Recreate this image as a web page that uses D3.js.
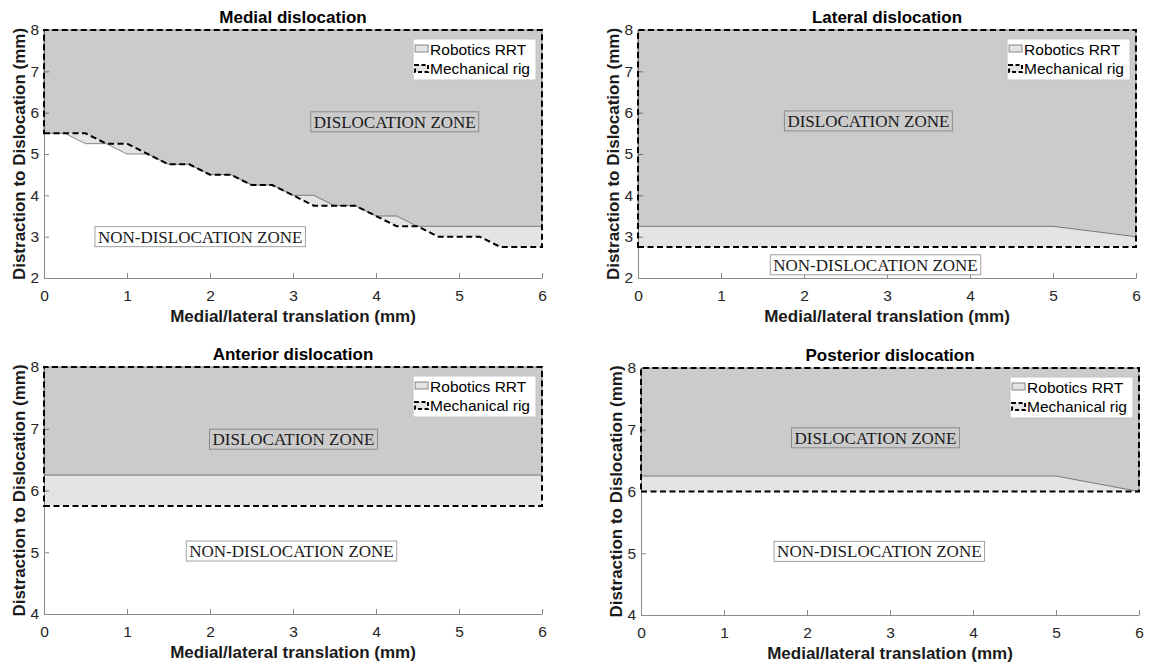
<!DOCTYPE html>
<html>
<head>
<meta charset="utf-8">
<script src="https://cdn.jsdelivr.net/npm/d3@7"></script>
<style>
  body { margin: 0; background: #fff; }
  text { font-family: "Liberation Sans", Arial, sans-serif; }
</style>
</head>
<body>
<svg width="1154" height="665"></svg>
<script>
"use strict";

// boundaries (mm), one x list per test
let medialX   = [0, 0.25, 0.5, 0.75, 1, 1.25, 1.5, 1.75, 2, 2.25, 2.5, 2.75, 3, 3.25, 3.5, 3.75, 4, 4.25, 4.5, 4.75, 5, 5.25, 5.5, 5.75, 6];
let medialRRT = [5.5, 5.5, 5.25, 5.25, 5, 5, 4.75, 4.75, 4.5, 4.5, 4.25, 4.25, 4, 4, 3.75, 3.75, 3.5, 3.5, 3.25, 3.25, 3.25, 3.25, 3.25, 3.25, 3.25];
let medialRig = [5.5, 5.5, 5.5, 5.25, 5.25, 5, 4.75, 4.75, 4.5, 4.5, 4.25, 4.25, 4, 3.75, 3.75, 3.75, 3.5, 3.25, 3.25, 3, 3, 3, 2.75, 2.75, 2.75];

let lateralX   = [0, 5, 6];
let lateralRRT = [3.25, 3.25, 3];
let lateralRig = [2.75, 2.75, 2.75];

let anteriorX   = [0, 6];
let anteriorRRT = [6.25, 6.25];
let anteriorRig = [5.75, 5.75];

let posteriorX   = [0, 5, 6];
let posteriorRRT = [6.25, 6.25, 6];
let posteriorRig = [6, 6, 6];

let titles = ["Medial dislocation", "Lateral dislocation", "Anterior dislocation", "Posterior dislocation"];
let xTicks = [0, 1, 2, 3, 4, 5, 6];
let yTicksTop = [2, 3, 4, 5, 6, 7, 8];
let yTicksBottom = [4, 5, 6, 7, 8];
let legendLabels = ["Robotics RRT", "Mechanical rig"];
// zone label anchors [x, y] in data units
let dislocLabel    = [[3.25, 5.78], [1.8, 5.8], [2.03, 6.83], [1.85, 6.87]];
let nonDislocLabel = [[0.65, 3.0], [1.63, 2.32], [1.75, 5.02], [1.64, 5.03]];

let panels = [
    {xs: medialX, rrt: medialRRT, rig: medialRig, yTicks: yTicksTop, left: 44, right: 542, top: 30, bottom: 278},
    {xs: lateralX, rrt: lateralRRT, rig: lateralRig, yTicks: yTicksTop, left: 638, right: 1136, top: 30, bottom: 278},
    {xs: anteriorX, rrt: anteriorRRT, rig: anteriorRig, yTicks: yTicksBottom, left: 44, right: 542, top: 367, bottom: 614},
    {xs: posteriorX, rrt: posteriorRRT, rig: posteriorRig, yTicks: yTicksBottom, left: 641, right: 1139, top: 368, bottom: 615}
];

let svg = d3.select("svg");
svg.append("rect").attr("width", 1154).attr("height", 665).attr("fill", "#fff");

panels.forEach((p, i) => {
    let x = d3.scaleLinear().domain([0, 6]).range([p.left, p.right]);
    let y = d3.scaleLinear().domain([p.yTicks[0], 8]).range([p.bottom, p.top]);
    let g = svg.append("g");

    // axes (drawn under the patches, like matlab's bottom layer)
    let xAxis = g.append("g")
        .attr("transform", "translate(0," + p.bottom + ")")
        .call(d3.axisBottom(x).tickValues(xTicks).tickFormat(d3.format("d"))
            .tickSizeInner(-5).tickSizeOuter(0).tickPadding(12));
    let yAxis = g.append("g")
        .attr("transform", "translate(" + p.left + ",0)")
        .call(d3.axisLeft(y).tickValues(p.yTicks).tickFormat(d3.format("d"))
            .tickSizeInner(-5).tickSizeOuter(0).tickPadding(5));
    [xAxis, yAxis].forEach(a => {
        a.select(".domain").attr("stroke", "#8a8a8a");
        a.selectAll(".tick line").attr("stroke", "#8a8a8a");
        a.selectAll(".tick text").attr("fill", "#262626").style("font-size", "15.5px");
    });

    // patch = boundary closed up to the top of the axis
    let line = d3.line().x(d => x(d[0])).y(d => y(d[1]));
    let patch = vals => line(p.xs.map((d, k) => [d, vals[k]]).concat([[6, 8], [0, 8]])) + "Z";

    g.append("path")
        .attr("d", patch(p.rrt))
        .attr("fill", "#000").attr("fill-opacity", 0.105)
        .attr("stroke", "#7a7a7a").attr("stroke-width", 0.9);
    g.append("path")
        .attr("d", patch(p.rig))
        .attr("fill", "#000").attr("fill-opacity", 0.105)
        .attr("stroke", "#000").attr("stroke-width", 2)
        .attr("stroke-dasharray", "6,3.5");

    // zone labels with boxes
    let zone = (pos, txt, bg, edge) => {
        let zg = g.append("g");
        let t = zg.append("text")
            .attr("x", x(pos[0])).attr("y", y(pos[1])).attr("dy", "0.35em")
            .style("font-family", "'Liberation Serif', 'Times New Roman', serif")
            .style("font-size", "17px")
            .attr("fill", "#1a1a1a")
            .text(txt);
        let w = t.node().getComputedTextLength();
        zg.insert("rect", "text")
            .attr("x", x(pos[0]) - 3).attr("y", y(pos[1]) - 10)
            .attr("width", w + 6).attr("height", 20)
            .attr("fill", bg).attr("stroke", edge).attr("stroke-width", 1);
    };
    zone(dislocLabel[i], "DISLOCATION ZONE", "none", "#8c8c8c");
    zone(nonDislocLabel[i], "NON-DISLOCATION ZONE", "#fff", "#a0a0a0");

    // titles and labels
    g.append("text")
        .attr("x", (p.left + p.right) / 2).attr("y", p.top - 7)
        .attr("text-anchor", "middle")
        .style("font-size", "17px").style("font-weight", "bold")
        .text(titles[i]);
    g.append("text")
        .attr("x", (p.left + p.right) / 2).attr("y", p.bottom + 44)
        .attr("text-anchor", "middle")
        .style("font-size", "17px").style("font-weight", "bold")
        .attr("fill", "#1a1a1a")
        .text("Medial/lateral translation (mm)");
    g.append("text")
        .attr("transform", "translate(" + (p.left - 19) + "," + ((p.top + p.bottom) / 2) + ") rotate(-90)")
        .attr("text-anchor", "middle")
        .style("font-size", "17px").style("font-weight", "bold")
        .attr("fill", "#1a1a1a")
        .text("Distraction to Dislocation (mm)");

    // legend
    let lg = g.append("g");
    let lr = lg.append("rect").attr("fill", "#fff").attr("stroke", "#c4c4c4").attr("stroke-width", 1);
    let tw = 0;
    legendLabels.forEach((lab, k) => {
        let t = lg.append("text")
            .attr("x", 17).attr("y", 16 + k * 19)
            .style("font-size", "15.5px")
            .attr("fill", "#000")
            .text(lab);
        tw = Math.max(tw, t.node().getComputedTextLength());
        let icon = lg.append("rect")
            .attr("x", 2).attr("y", 6 + k * 20).attr("width", 13).attr("height", 7)
            .attr("fill", "#000").attr("fill-opacity", 0.105);
        if (k == 0) {
            icon.attr("stroke", "#7a7a7a").attr("stroke-width", 0.9);
        } else {
            icon.attr("stroke", "#000").attr("stroke-width", 2).attr("stroke-dasharray", "4,2.5");
        }
    });
    let lw = 17 + tw + 6;
    lr.attr("width", lw).attr("height", 41);
    lg.attr("transform", "translate(" + (p.right - 6 - lw) + "," + (p.top + 9) + ")");
});
</script>
</body>
</html>
